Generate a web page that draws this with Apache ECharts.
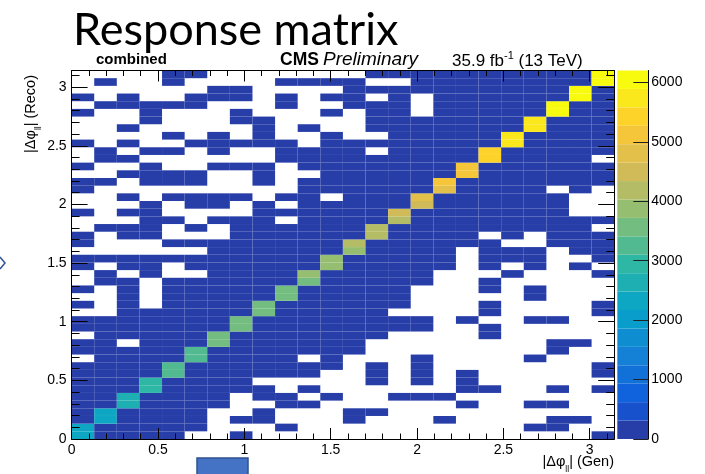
<!DOCTYPE html>
<html><head><meta charset="utf-8">
<script src="https://cdn.jsdelivr.net/npm/echarts@6/dist/echarts.min.js"></script>
<style>html,body{margin:0;padding:0;background:#fff}#c{width:705px;height:474px}</style>
</head><body><div id="c"></div>
<script>
// ---------------- data ----------------
const genBins = 24;            // |dphi_ll| (Gen) bins, 0..pi
const recoBins = 48;           // |dphi_ll| (Reco) bins, 0..pi
const phiMax = Math.PI;
const zMax = 6200;             // colour scale maximum
const nContours = 20;
// Reco rows, bottom (row 0) to top (row 47); one char per Gen bin 0..23
// '#' = small off-diagonal count, '.' = empty bin, 'D' = diagonal bin
const recoRows = [
  "D####..#...............#",
  "D#####...#..........##..",
  "#D####.##...#...#....##.",
  "#D####..#...##..........",
  "##D####..##......#..##..",
  "##D####.##.#..###.......",
  "###D#####.#......##..#.#",
  "###D####.....#.#.#......",
  "####D######..#.#.#.....#",
  "####D#######.#.#.......#",
  ".####D####.#...#....#...",
  "#####D#######........#..",
  "##.###D######........##.",
  ".#####D#######....#.....",
  "#######D########..#.....",
  "#######D########.#..##..",
  "..######D#####....#....#",
  "#.#.####D######...#....#",
  "..#.#####D#####.....#...",
  "#.#.#####D#####...#.#...",
  ".##.######D#####..#.....",
  ".#.#..####D#####...#...#",
  "#.##.######D#####.#.#.#.",
  "###########D#####.###..#",
  "......######D####.###.##",
  "#...########D######..###",
  "#.##...######D####.#.###",
  ".###.#.######D#########.",
  "...##.###.####D#########",
  "#.##....######D#######..",
  "...#.##.#.#####D######..",
  "..#.####.##.###D######..",
  "#.........######D####.#.",
  "##.###..#.######D#######",
  "..####..#..######D######",
  "#..#..###.#######D######",
  ".##......#########D####.",
  ".#.##.#..####.####D#####",
  "#.#..#####.########D####",
  "....#.#.#..#..#####D####",
  "..#.....#.#..#######D###",
  "...#...##....#######D###",
  "#..#...#...#.##.#####D##",
  ".#####...#..###.#####D##",
  "#.#..###.#.##.#.######D#",
  "......##....##########D#",
  ".#..#....####..########D",
  "....##.......##########D"
];
// diagonal bin contents, reco row 0..47
const diagonalCounts = [
  2280, 2300, 2420, 2440, 2650, 2700, 2950, 2980, 3250, 3300, 3300, 3350,
  3500, 3550, 3550, 3600, 3600, 3580, 3650, 3620, 3640, 3800, 3850, 3860,
  3820, 4100, 4150, 4200, 4200, 4420, 4450, 4750, 4700, 5000, 5000, 5150,
  5350, 5400, 5650, 5700, 5700, 5750, 5950, 6000, 6050, 6100, 6150, 6200
];
const offDiagonalCount = 120;
const xTickLabels = ["0", "0.5", "1", "1.5", "2", "2.5", "3"];
const yTickLabels = ["0", "0.5", "1", "1.5", "2", "2.5", "3"];
const zTickLabels = ["0", "1000", "2000", "3000", "4000", "5000", "6000"];

// ---------------- palette (ROOT kBird) ----------------
const birdStops = [0, 0.125, 0.25, 0.375, 0.5, 0.625, 0.75, 0.875, 1];
const birdR = [0.2082,0.0592,0.0780,0.0232,0.1802,0.5301,0.8186,0.9956,0.9764];
const birdG = [0.1664,0.3599,0.5041,0.6419,0.7178,0.7492,0.7328,0.7862,0.9832];
const birdB = [0.5293,0.8684,0.8385,0.7914,0.6425,0.4662,0.3499,0.1968,0.0539];
function birdColor(f) {
  let k = 0;
  while (k < birdStops.length - 2 && f > birdStops[k + 1]) k++;
  const t = (f - birdStops[k]) / (birdStops[k + 1] - birdStops[k]);
  const c = a => Math.round(255 * (a[k] + t * (a[k + 1] - a[k])));
  return 'rgb(' + c(birdR) + ',' + c(birdG) + ',' + c(birdB) + ')';
}
function contourColor(i) {
  const idx = Math.floor((i + 0.99) * 255 / nContours);
  return birdColor(idx / 254);
}
const bandWidth = zMax / nContours;
const pieces = [];
for (let i = 0; i < nContours; i++) {
  const p = { gte: i * bandWidth, color: contourColor(i) };
  if (i < nContours - 1) p.lt = (i + 1) * bandWidth;
  pieces.push(p);
}

// ---------------- cells ----------------
const gw = phiMax / genBins, rh = phiMax / recoBins;
const cells = [];
recoRows.forEach((row, r) => {
  for (let c = 0; c < genBins; c++) {
    const ch = row[c];
    if (ch === '.') continue;
    const v = ch === 'D' ? diagonalCounts[r] : offDiagonalCount;
    cells.push([(c + 0.5) * gw, (r + 0.5) * rh, v]);
  }
});

function renderCell(params, api) {
  const xc = api.value(0), yc = api.value(1);
  const p0 = api.coord([xc - gw / 2, yc + rh / 2]);
  const p1 = api.coord([xc + gw / 2, yc - rh / 2]);
  return {
    type: 'rect',
    shape: { x: p0[0], y: p0[1], width: p1[0] - p0[0], height: p1[1] - p0[1] },
    style: { fill: api.visual('color') }
  };
}

const majorVals = xTickLabels.map(Number);
const minorVals = [];
for (let k = 1; k <= 31; k++) if (k % 5 !== 0) minorVals.push(k / 10);
const zVals = zTickLabels.map(Number);

const FONT = 'Liberation Sans, Arial, sans-serif';
const labelStyle = { color: '#000', fontFamily: FONT, fontSize: 14 };

function mkAxis(dim, pos, len, vals, withLabels, withLine, labels) {
  const ax = {
    type: 'value', gridIndex: 0, position: pos, min: 0, max: phiMax, z: 10,
    splitLine: { show: false },
    axisLine: { show: withLine, onZero: false, lineStyle: { color: '#000', width: 1 } },
    axisTick: { show: true, inside: true, length: len, customValues: vals,
                lineStyle: { color: '#000', width: 1 } },
    axisLabel: { show: false }
  };
  if (withLabels) {
    ax.axisLabel = Object.assign({ show: true, margin: dim === 'x' ? 4 : 5,
      customValues: vals,
      formatter: v => labels[Math.round(v * 2)] }, labelStyle);
  }
  return ax;
}

const chart = echarts.init(document.getElementById('c'), null, { renderer: 'canvas' });
const gridMain = { left: 71.6, top: 70.5, width: 542.6, height: 368.5, show: false };
const gridBar = { left: 617.3, top: 70.5, width: 31, height: 368.5, show: false };

const cbSeries = [];
for (let i = 0; i < nContours; i++) {
  cbSeries.push({
    type: 'bar', xAxisIndex: 4, yAxisIndex: 4, stack: 'cb', silent: true,
    barWidth: '100%', data: [bandWidth], itemStyle: { color: contourColor(i) },
    animation: false
  });
}

const subRich = {
  m: { fontFamily: FONT, fontSize: 14.5, color: '#000', verticalAlign: 'top', lineHeight: 20 },
  s: { fontFamily: FONT, fontSize: 8.5, color: '#000', verticalAlign: 'bottom', lineHeight: 20 }
};

chart.setOption({
  animation: false,
  grid: [gridMain, gridBar],
  xAxis: [
    mkAxis('x', 'bottom', 11, majorVals, true, true, xTickLabels),
    mkAxis('x', 'bottom', 5.5, minorVals, false, false),
    mkAxis('x', 'top', 11, majorVals, false, true),
    mkAxis('x', 'top', 5.5, minorVals, false, false),
    { type: 'category', gridIndex: 1, data: ['z'], show: false, boundaryGap: true }
  ],
  yAxis: [
    mkAxis('y', 'left', 16, majorVals, true, true, yTickLabels),
    mkAxis('y', 'left', 8, minorVals, false, false),
    mkAxis('y', 'right', 16, majorVals, false, true),
    mkAxis('y', 'right', 8, minorVals, false, false),
    { type: 'value', gridIndex: 1, position: 'right', min: 0, max: zMax, z: 10,
      splitLine: { show: false },
      axisLine: { show: true, onZero: false, lineStyle: { color: '#000' } },
      axisTick: { show: true, inside: true, length: 15, customValues: zVals,
                  lineStyle: { color: '#222' } },
      axisLabel: Object.assign({ margin: 3, customValues: zVals,
                  formatter: v => zTickLabels[Math.round(v / 1000)] }, labelStyle) }
  ],
  visualMap: {
    type: 'piecewise', show: false, seriesIndex: 0, dimension: 2, pieces: pieces
  },
  series: [{
    type: 'custom', xAxisIndex: 0, yAxisIndex: 0, renderItem: renderCell,
    data: cells, encode: { x: 0, y: 1 }, silent: true
  }].concat(cbSeries),
  graphic: [
    { type: 'text', x: 73, y: 30, style: { text: 'Response matrix', fill: '#000',
      fontFamily: 'Lato, Open Sans, sans-serif', fontSize: 45, align: 'left', verticalAlign: 'middle' } },
    { type: 'text', x: 96, y: 60, style: { text: 'combined', fill: '#000',
      fontFamily: FONT, fontWeight: 'bold', fontSize: 15, verticalAlign: 'middle' } },
    { type: 'text', x: 280, y: 60, style: { text: 'CMS', fill: '#000',
      fontFamily: FONT, fontWeight: 'bold', fontSize: 17.5, verticalAlign: 'middle' } },
    { type: 'text', x: 323, y: 60, style: { text: 'Preliminary', fill: '#000',
      fontFamily: FONT, fontStyle: 'italic', fontSize: 19, verticalAlign: 'middle' } },
    { type: 'text', x: 452, y: 60, style: {
      text: '{a|35.9 fb}{b|-1}{a| (13 TeV)}', verticalAlign: 'middle',
      rich: { a: { fontFamily: FONT, fontSize: 17, color: '#000', verticalAlign: 'bottom', lineHeight: 20 },
              b: { fontFamily: FONT, fontSize: 11, color: '#000', verticalAlign: 'top', lineHeight: 20 } } } },
    { type: 'text', x: 33, y: 75, rotation: Math.PI / 2, style: {
      text: '{m||Δφ}{s|ll}{m|| (Reco)}', align: 'right', verticalAlign: 'middle', rich: subRich } },
    { type: 'text', x: 614, y: 464, style: {
      text: '{m||Δφ}{s|ll}{m|| (Gen)}', align: 'right', verticalAlign: 'middle', rich: subRich } },
    { type: 'rect', shape: { x: 197, y: 458, width: 51, height: 20 },
      style: { fill: '#4472c4', stroke: '#2f528f', lineWidth: 1.5 } },
    { type: 'polyline', shape: { points: [[0, 257], [5, 263], [0, 269]] },
      style: { stroke: '#2f5597', lineWidth: 1.5, fill: null } }
  ]
});
</script></body></html>
